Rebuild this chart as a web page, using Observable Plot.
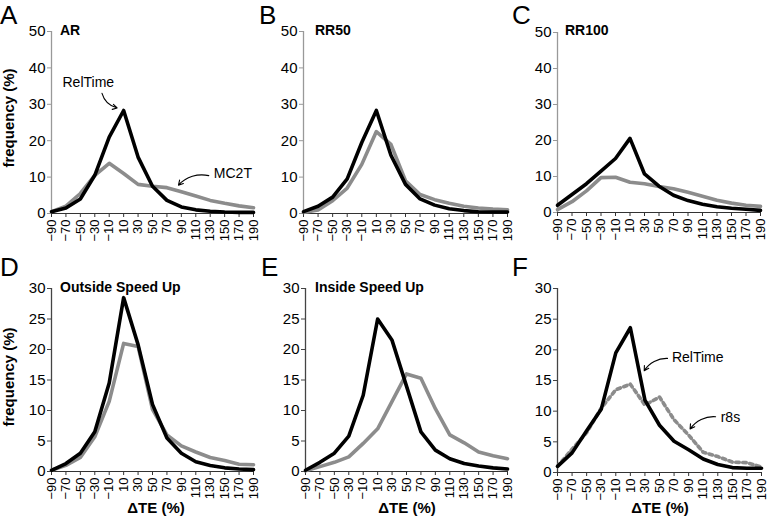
<!DOCTYPE html>
<html>
<head>
<meta charset="utf-8">
<script src="https://cdn.jsdelivr.net/npm/d3@7"></script>
<script src="https://cdn.jsdelivr.net/npm/@observablehq/plot@0.6"></script>
<style>
  html, body { margin: 0; padding: 0; background: white; }
  #wrap { position: relative; width: 768px; height: 527px; overflow: hidden; background: white; font-family: "Liberation Sans", Arial, sans-serif; }
  #wrap svg.panel { position: absolute; overflow: visible; background: transparent; }
  #overlay { position: absolute; left: 0; top: 0; }
</style>
</head>
<body>
<div id="wrap"></div>
<script>
// ---- data ----
const deltaTE = [-90, -70, -50, -30, -10, 10, 30, 50, 70, 90, 110, 130, 150, 170, 190];

const arRelTime   = [0.5, 1.5, 4, 10.5, 21, 28.3, 15.5, 7.5, 3.6, 1.8, 1, 0.6, 0.4, 0.3, 0.3];
const arMC2T      = [0.5, 2, 5.5, 10.5, 13.8, 11, 8, 7.5, 7.1, 6, 4.8, 3.6, 2.8, 2.1, 1.6];
const rr50RelTime = [0.5, 2, 4.5, 9.5, 19.5, 28.3, 16, 8, 4, 2.3, 1.3, 0.8, 0.5, 0.4, 0.4];
const rr50MC2T    = [0.3, 1, 3.5, 7, 13.5, 22.5, 19, 9, 5.2, 3.8, 2.8, 2, 1.5, 1.2, 1];
const rr100RelTime= [2, 5, 8, 11.5, 15, 20.6, 10.7, 7.3, 4.8, 3.3, 2.3, 1.6, 1.2, 0.9, 0.6];
const rr100MC2T   = [0.8, 3, 6, 9.7, 9.8, 8.4, 8, 7.2, 6.6, 5.6, 4.5, 3.4, 2.6, 2, 1.7];
const outRelTime  = [0.2, 1.3, 3, 6.5, 14.5, 28.5, 20.8, 11, 5.5, 3, 1.6, 1, 0.6, 0.4, 0.3];
const outMC2T     = [0.2, 1, 2.3, 5.7, 11.5, 21, 20.5, 10.2, 6, 4.2, 3.2, 2.3, 1.8, 1.2, 1.1];
const inRelTime   = [0.2, 1.5, 3, 5.8, 12.5, 25, 21.5, 14, 6.5, 3.5, 2.1, 1.3, 0.9, 0.6, 0.4];
const inMC2T      = [0.1, 0.8, 1.5, 2.4, 4.6, 7, 11.5, 16, 15.3, 10.3, 6, 4.7, 3.2, 2.6, 2.1];
const fRelTime    = [1, 3.2, 6.8, 10.3, 19.5, 23.6, 11.8, 7.7, 5.1, 3.7, 2.2, 1.3, 0.8, 0.7, 0.7];
const fR8s        = [1, 3.8, 6.5, 10.5, 13.5, 14.4, 11, 12.3, 8.6, 6.1, 3.3, 2.6, 1.7, 1.6, 0.9];

const topTicks = [0, 10, 20, 30, 40, 50];
const bottomTicks = [0, 5, 10, 15, 20, 25, 30];

const panelLetters = ["A", "B", "C", "D", "E", "F"];
const panelTitles = ["AR", "RR50", "RR100", "Outside Speed Up", "Inside Speed Up", ""];

// annotation texts (data coords) and arrows
const annotations = {
  A: [
    {label: "RelTime", tx: -39, ty: 36, anchor: "middle", x1: -20, y1: 33, x2: 1, y2: 29},
    {label: "MC2T", tx: 135, ty: 11, anchor: "start", x1: 128, y1: 10.4, x2: 86, y2: 7.8}
  ],
  F: [
    {label: "RelTime", tx: 67, ty: 18.8, anchor: "start", x1: 61, y1: 18.6, x2: 29, y2: 16.6},
    {label: "r8s", tx: 134, ty: 9, anchor: "start", x1: 127, y1: 9.1, x2: 92, y2: 7.1}
  ]
};

// ---- layout ----
const GRAY = "#8c8c8c";
const panels = [
  {key: "A", a: arRelTime, b: arMC2T, yMax: 50, yt: topTicks, left: 0, top: 0, w: 256, h: 250, ml: 51, mr: 3, mt: 31, mb: 37, axisColor: "#999"},
  {key: "B", a: rr50RelTime, b: rr50MC2T, yMax: 50, yt: topTicks, left: 256, top: 0, w: 256, h: 250, ml: 47, mr: 5, mt: 31, mb: 37, axisColor: "#999"},
  {key: "C", a: rr100RelTime, b: rr100MC2T, yMax: 50, yt: topTicks, left: 512, top: 0, w: 256, h: 250, ml: 45, mr: 8, mt: 32, mb: 38, axisColor: "#999"},
  {key: "D", a: outRelTime, b: outMC2T, yMax: 30, yt: bottomTicks, left: 0, top: 255, w: 256, h: 250, ml: 51, mr: 3, mt: 33, mb: 34, axisColor: "#444"},
  {key: "E", a: inRelTime, b: inMC2T, yMax: 30, yt: bottomTicks, left: 256, top: 255, w: 256, h: 250, ml: 49, mr: 5, mt: 33, mb: 34, axisColor: "#444"},
  {key: "F", a: fRelTime, b: fR8s, yMax: 30, yt: bottomTicks, left: 512, top: 255, w: 256, h: 250, ml: 45, mr: 7, mt: 33, mb: 33, axisColor: "#444", dotted: true}
];

const wrap = document.getElementById("wrap");

panels.forEach((p) => {
  const rows = deltaTE.map((x, i) => ({x, rel: p.a[i], other: p.b[i]}));
  const ann = annotations[p.key] || [];
  const annStart = ann.filter((d) => d.anchor === "start");
  const annMid = ann.filter((d) => d.anchor === "middle");
  const chart = Plot.plot({
    width: p.w,
    height: p.h,
    marginLeft: p.ml,
    marginRight: p.mr,
    marginTop: p.mt,
    marginBottom: p.mb,
    style: {fontFamily: "Liberation Sans, Arial, sans-serif", background: "transparent", overflow: "visible"},
    x: {domain: [-90, 190], label: null},
    y: {domain: [0, p.yMax], label: null},
    marks: [
      Plot.axisY({ticks: p.yt, tickSize: 4, tickPadding: 2, fontSize: 15, stroke: p.axisColor, fill: "black", label: null}),
      Plot.axisX({ticks: deltaTE, tickSize: 4, tickPadding: 2, tickRotate: -90, fontSize: 13, stroke: "#333", fill: "black", label: null}),
      Plot.ruleX([-90], {y1: 0, y2: p.yMax, stroke: p.axisColor, strokeWidth: 1.3}),
      Plot.ruleY([0], {stroke: "#333", strokeWidth: 1}),
      Plot.lineY(rows, {x: "x", y: "other", stroke: GRAY, strokeWidth: 3.6,
        strokeDasharray: p.dotted ? "3.5,3.5" : null, strokeLinejoin: "round"}),
      Plot.lineY(rows, {x: "x", y: "rel", stroke: "black", strokeWidth: 3.6, strokeLinejoin: "round"}),
      Plot.text(annStart, {x: "tx", y: "ty", text: "label", textAnchor: "start", fontSize: 14, fill: "black"}),
      Plot.text(annMid, {x: "tx", y: "ty", text: "label", textAnchor: "middle", fontSize: 14, fill: "black"}),
      Plot.arrow(ann, {x1: "x1", y1: "y1", x2: "x2", y2: "y2", bend: -30, stroke: "black", strokeWidth: 1.1, headLength: 7})
    ]
  });
  chart.classList.add("panel");
  chart.style.left = p.left + "px";
  chart.style.top = p.top + "px";
  wrap.appendChild(chart);
});

// ---- overlay texts ----
const ov = d3.select(wrap).append("svg").attr("id", "overlay").attr("width", 768).attr("height", 527)
  .style("font-family", "Liberation Sans, Arial, sans-serif").style("pointer-events", "none");

const letterPos = [[0, 24], [259, 24], [512, 24], [0, 276], [261, 276], [512, 276]];
panelLetters.forEach((L, i) => {
  ov.append("text").attr("x", letterPos[i][0]).attr("y", letterPos[i][1]).attr("font-size", 26).text(L);
});
const titlePos = [[60, 35], [315, 35], [565, 35], [60, 292], [315, 292], [565, 292]];
panelTitles.forEach((t, i) => {
  ov.append("text").attr("x", titlePos[i][0]).attr("y", titlePos[i][1]).attr("font-size", 14)
    .attr("font-weight", "bold").text(t);
});
[[118], [377]].forEach(([cy]) => {
  ov.append("text").attr("transform", `translate(14,${cy}) rotate(-90)`).attr("text-anchor", "middle")
    .attr("font-size", 15).attr("font-weight", "bold").text("frequency (%)");
});
[156, 407, 660].forEach((cx) => {
  ov.append("text").attr("x", cx).attr("y", 513).attr("text-anchor", "middle")
    .attr("font-size", 15).attr("font-weight", "bold").text("ΔTE (%)");
});
</script>
</body>
</html>
